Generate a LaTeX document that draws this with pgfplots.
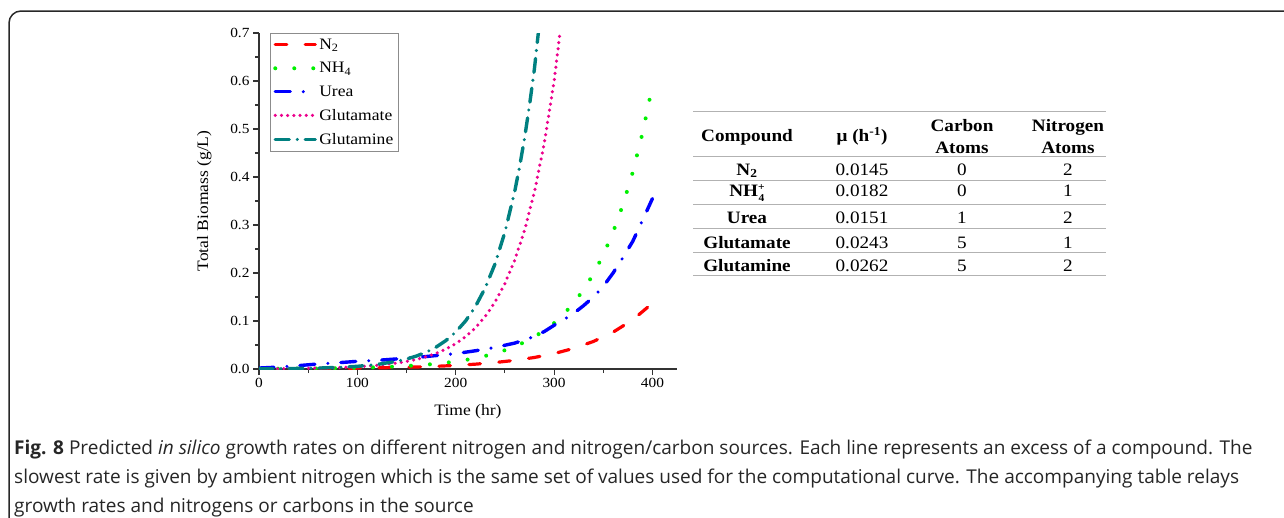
\documentclass[border=0pt]{standalone}
\usepackage{pgfplots}
\pgfplotsset{compat=1.18}
\usepackage{fontspec}
\setmainfont{Liberation Serif}[FakeStretch=1.1]
\newfontfamily\capfont{Open Sans}
\definecolor{lime}{RGB}{0,240,0}
\definecolor{tealc}{RGB}{0,128,128}
\definecolor{frm}{RGB}{40,40,40}
\newcommand{\tabfont}{\fontsize{17.5}{19}\selectfont}

\begin{document}
\begin{tikzpicture}
\useasboundingbox (0,0) rectangle (1284bp,-518bp);
% rounded frame, top and left edges only
\draw[frm, line width=1.5bp, rounded corners=12bp] (9bp,-530bp) -- (9bp,-11bp) -- (1300bp,-11bp);

\begin{axis}[
  at={(259bp,-369bp)}, anchor=south west,
  scale only axis, width=418bp, height=336bp,
  xmin=0, xmax=425, ymin=0, ymax=0.7,
  axis lines=left,
  axis line style={-, line width=1.1bp, black!80},
  xtick={0,100,200,300,400},
  ytick={0,0.1,0.2,0.3,0.4,0.5,0.6,0.7},
  minor x tick num=1, minor y tick num=1,
  tick align=outside,
  major tick length=6bp, minor tick length=4bp,
  every tick/.style={line width=1.1bp, black!80},
  /pgf/number format/assume math mode=true,
  yticklabel style={/pgf/number format/.cd, fixed, fixed zerofill, precision=1},
  ticklabel style={font=\fontsize{14}{16}\selectfont},
  xlabel={Time (hr)}, ylabel={Total Biomass (g/L)},
  label style={font=\fontsize{16}{18}\selectfont},
  xlabel style={at={(axis description cs:0.5,-0.128)}, anchor=center},
  ylabel style={at={(axis description cs:-0.131,0.5)}, anchor=center},
  legend style={at={(axis description cs:0.026,1)}, anchor=north west,
    draw=black!45, line width=0.8bp, fill=white,
    font=\fontsize{16}{18}\selectfont,
    inner xsep=3bp, inner ysep=3.5bp, row sep=7.5bp},
  legend cell align=left,
  legend image code/.code={\draw[#1] (0bp,0bp) -- (40bp,0bp);},
]
% N2
\addplot[red, line width=3.2bp, line cap=round, dash pattern=on 11.5bp off 18.5bp]
coordinates {
 (0,0.0004) (20,0.0005) (40,0.0007) (60,0.0010) (80,0.0013) (100,0.0018)
 (120,0.0024) (140,0.0032) (160,0.0042) (180,0.0056) (200,0.0075)
 (220,0.0101) (240,0.0135) (260,0.0180) (280,0.0240) (300,0.0321)
 (320,0.0430) (340,0.0574) (360,0.0767) (380,0.1025) (400,0.137)
};
\addlegendentry{N\textsubscript{2}}
% NH4
\addplot[lime, line width=4bp, line cap=round, dash pattern=on 0bp off 19bp]
coordinates {
 (0,0.0004) (20,0.0006) (40,0.0008) (60,0.0012) (80,0.0017) (100,0.0025)
 (120,0.0036) (140,0.0052) (160,0.0075) (180,0.0108) (200,0.0155)
 (220,0.0223) (240,0.0321) (260,0.0462) (280,0.0664) (300,0.0956)
 (310,0.1147) (320,0.1376) (330,0.165) (340,0.198) (350,0.2375)
 (360,0.285) (370,0.342) (380,0.410) (390,0.492) (400,0.590)
};
\addlegendentry{NH\textsubscript{4}}
% Urea
\addplot[blue, line width=3.4bp, line cap=round, dash pattern=on 15bp off 13bp on 0bp off 13bp]
coordinates {
 (0,0.002) (20,0.004) (40,0.007) (60,0.0105) (80,0.013) (100,0.016)
 (120,0.018) (140,0.021) (160,0.024) (180,0.028) (200,0.032)
 (220,0.038) (240,0.045) (260,0.054) (275,0.064) (290,0.078)
 (300,0.091) (310,0.103) (320,0.116) (330,0.132) (340,0.150)
 (350,0.172) (360,0.200) (370,0.232) (380,0.266) (390,0.310) (400,0.355)
};
\addlegendentry{Urea}
% Glutamate
\addplot[magenta, line width=3.5bp, line cap=round, dash pattern=on 0bp off 6.2bp]
coordinates {
 (0,0.0004) (20,0.0007) (40,0.0011) (60,0.0018) (80,0.0029) (100,0.0047)
 (120,0.0076) (140,0.0123) (150,0.0157) (160,0.0200) (170,0.0255)
 (180,0.0325) (190,0.0414) (200,0.0528) (210,0.0673) (220,0.0858)
 (230,0.1094) (240,0.1395) (250,0.178) (260,0.2268) (270,0.289)
 (280,0.3685) (290,0.470) (300,0.599) (306,0.700)
};
\addlegendentry{Glutamate}
% Glutamine
\addplot[tealc, line width=3.4bp, line cap=round, dash pattern=on 14bp off 8bp on 0bp off 8bp]
coordinates {
 (0,0.0004) (20,0.0007) (40,0.0012) (60,0.0019) (80,0.0033) (100,0.0056)
 (120,0.0094) (140,0.0160) (150,0.0207) (160,0.0270) (170,0.0350)
 (180,0.0455) (190,0.0592) (200,0.0769) (210,0.100) (220,0.130)
 (230,0.169) (240,0.219) (250,0.285) (260,0.370) (265,0.422)
 (270,0.481) (275,0.549) (280,0.625) (284,0.700)
};
\addlegendentry{Glutamine}
\end{axis}

% table
\begin{scope}[black!30, line width=1bp]
\draw (693bp,-111bp) -- (1106bp,-111bp);
\foreach \yy in {156.5,180,204,228,252,275}
  \draw (693bp,-\yy bp) -- (1106bp,-\yy bp);
\end{scope}
\begin{scope}[every node/.style={font=\tabfont, anchor=base, inner sep=0pt}]
\node[font=\tabfont\bfseries] at (747bp,-141.5bp) {Compound};
\node[font=\tabfont\bfseries] at (862bp,-141.5bp) {μ (h\textsuperscript{-1})};
\node[font=\tabfont\bfseries] at (962bp,-131.5bp) {Carbon};
\node[font=\tabfont\bfseries] at (962bp,-153bp) {Atoms};
\node[font=\tabfont\bfseries] at (1068bp,-131.5bp) {Nitrogen};
\node[font=\tabfont\bfseries] at (1068bp,-153bp) {Atoms};
\node[font=\tabfont\bfseries] at (747bp,-175bp) {N\textsubscript{2}};
\node[font=\tabfont\bfseries] at (747bp,-196.7bp) {NH\raisebox{-5bp}{\fontsize{10.5}{10.5}\selectfont\shortstack{+\\[1.5bp]4}}};
\node[font=\tabfont\bfseries] at (747bp,-223bp) {Urea};
\node[font=\tabfont\bfseries] at (747bp,-248bp) {Glutamate};
\node[font=\tabfont\bfseries] at (747bp,-271.5bp) {Glutamine};
\node at (862bp,-175bp) {0.0145};
\node at (862bp,-196.7bp) {0.0182};
\node at (862bp,-223bp) {0.0151};
\node at (862bp,-248bp) {0.0243};
\node at (862bp,-271.5bp) {0.0262};
\node at (962bp,-175bp) {0};
\node at (962bp,-196.7bp) {0};
\node at (962bp,-223bp) {1};
\node at (962bp,-248bp) {5};
\node at (962bp,-271.5bp) {5};
\node at (1068bp,-175bp) {2};
\node at (1068bp,-196.7bp) {1};
\node at (1068bp,-223bp) {2};
\node at (1068bp,-248bp) {1};
\node at (1068bp,-271.5bp) {2};
\end{scope}

% caption
\begin{scope}[every node/.style={font=\capfont\fontsize{19.1}{21}\selectfont, anchor=base west, inner sep=0pt, text=black!85}]
\node at (14bp,-454bp) {\textbf{Fig. 8} Predicted \textit{in silico} growth rates on different nitrogen and nitrogen/carbon sources. Each line represents an excess of a compound. The};
\node at (14bp,-483bp) {slowest rate is given by ambient nitrogen which is the same set of values used for the computational curve. The accompanying table relays};
\node at (14bp,-512bp) {growth rates and nitrogens or carbons in the source};
\end{scope}
\end{tikzpicture}
\end{document}
